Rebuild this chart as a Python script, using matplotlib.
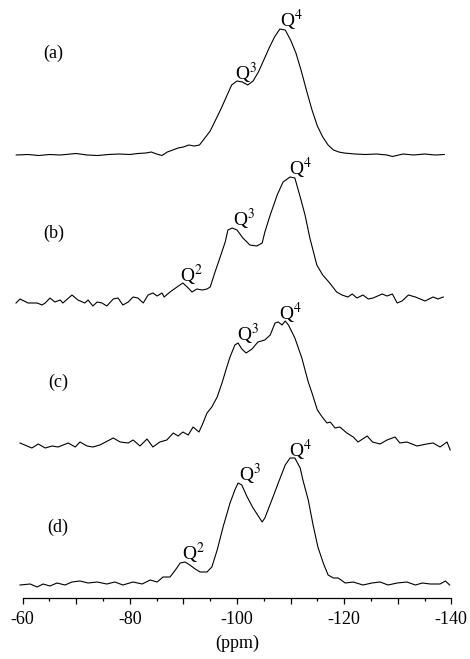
import numpy as np
import matplotlib
matplotlib.use('Agg')
import matplotlib.pyplot as plt
from matplotlib.ticker import MultipleLocator, FuncFormatter

# 29Si MAS NMR spectra, intensities (arbitrary units)
a_ppm = [-58.8, -61, -63, -65, -67, -69, -70, -72, -74, -76, -78, -80, -81.5, -83, -84, -85, -86,
         -87, -88, -89, -90, -91, -92, -93, -94, -95, -96, -97, -98, -99, -100, -101, -102, -103,
         -104, -105, -106, -107, -108, -109, -110, -111, -112, -113, -114, -115, -116, -117, -118,
         -119, -120, -122, -124, -126, -128, -129, -131, -133, -135, -137, -138.7]
a_int = [0, 0.5, -0.5, 0.5, 0, 1, 1.5, 0, -0.5, 0.5, 1, 0.5, 1.5, 2, 3, 1, -0.5,
         3, 5, 7, 8, 10, 9, 10, 17, 24, 35, 46, 58, 70, 74, 73, 70, 74,
         83, 95, 107, 118, 126, 125, 115, 102, 84, 64, 45, 29, 18, 10, 5,
         3, 2, 1, 0.5, 1, 0, -1.5, 1, 0, 1, 0, 0.5]

b_ppm = [-58.75, -59.5, -61.0, -62.7, -63.6, -64.2, -65.1, -66.0, -67.0, -67.5, -69.2, -70.3,
         -71.6, -72.2, -73.1, -73.9, -74.8, -75.7, -76.9, -77.8, -78.7, -79.7, -80.6, -81.5,
         -82.5, -83.4, -84.3, -85.1, -86.0, -86.4, -87.5, -88.8, -89.9, -90.9, -91.6, -92.5,
         -93.5, -94.4, -95.0, -95.9, -96.8, -97.8, -98.3, -99.1, -100.0, -101.1, -102.4, -103.7,
         -104.7, -105.2, -106.2, -107.5, -108.6, -109.9, -110.8, -111.8, -112.7, -113.6, -114.9,
         -116.0, -117.3, -118.6, -119.6, -120.7, -121.5, -122.4, -123.5, -124.5, -125.4, -127.1,
         -128.0, -129.0, -129.9, -130.8, -132.0, -133.3, -135.1, -136.6, -137.5, -138.5]
b_int = [-1, 3, -1, -1, -3, -1, 4, 0, 2, -1, 7, 2,
         -1, 2, -4, 0, -1, -4, 3, 4, -3, 0, 5, 4,
         -1, 7, 9, 6, 9, 5, 10, 15, 19, 14, 10, 13,
         12, 13, 15, 30, 44, 60, 72, 74, 72, 64, 57, 56,
         59, 70, 87, 107, 120, 125, 124, 105, 87, 64, 37,
         27, 19, 10, 7, 5, 8, 4, 7, 3, 4, 8,
         6, 8, -1, 1, 7, 5, 1, 5, 3, 5]

c_ppm = [-59.5, -61.7, -62.9, -64.2, -65.5, -66.6, -68.5, -69.8, -70.7, -72.0, -73.1, -74.4,
         -76.9, -78.2, -79.7, -80.6, -81.9, -83.2, -84.3, -85.6, -86.9, -88.1, -89.0, -89.9,
         -90.9, -91.8, -92.9, -93.5, -94.4, -95.3, -96.3, -97.2, -98.1, -98.7, -99.6, -100.2,
         -100.9, -101.7, -102.8, -103.9, -105.2, -106.2, -107.1, -107.7, -108.4, -109.0, -109.6,
         -110.8, -112.1, -112.7, -113.3, -114.0, -115.0, -115.9, -116.8, -117.4, -118.3, -119.2,
         -120.5, -121.7, -122.6, -124.3, -125.3, -126.7, -128.0, -129.5, -130.4, -131.7, -133.6,
         -135.4, -136.6, -137.9, -139.2, -139.8]
c_int = [2, -3, 1, -3, -1, -2, 2, -2, 3, -1, -2, 0,
         7, 3, 2, 5, -1, 6, -2, 3, 5, 12, 9, 13,
         10, 18, 13, 20, 32, 38, 48, 62, 78, 88, 100, 102,
         96, 92, 96, 103, 105, 110, 122, 123, 120, 124, 120,
         107, 87, 75, 63, 52, 35, 28, 22, 23, 17, 18,
         12, 8, 3, 9, 3, 1, 5, 8, 2, 3, -1,
         1, 2, -2, 3, -5]

d_ppm = [-59.5, -61.4, -62.7, -63.8, -65.1, -66.4, -67.9, -69.2, -70.7, -72.2, -73.9, -75.7,
         -77.2, -78.7, -80.6, -82.3, -83.8, -85.1, -86.2, -87.5, -88.5, -89.4, -90.3, -91.2,
         -92.2, -93.1, -94.4, -95.3, -96.3, -97.4, -98.7, -99.6, -100.2, -100.9, -101.9, -103.0,
         -104.7, -105.2, -106.5, -107.7, -109.0, -109.9, -110.8, -111.8, -112.3, -113.3, -114.2,
         -115.1, -116.1, -117.0, -118.0, -118.9, -120.2, -121.7, -123.5, -125.2, -126.7, -128.2,
         -129.9, -131.7, -133.3, -134.6, -136.1, -137.9, -138.9, -139.7]
d_int = [0, 1, -2, 1, -1, 2, 0, 3, 4, 2, 3, 1,
         3, 0, 3, 1, 5, 3, 8, 8, 15, 22, 23, 20,
         16, 13, 13, 18, 35, 58, 82, 95, 102, 100, 88, 77,
         63, 67, 85, 102, 120, 127, 127, 117, 105, 85, 60,
         38, 22, 10, 7, 7, 2, 3, 0, 2, 3, 0,
         2, 3, 0, 2, 1, 1, 4, 0]

spectra = [(a_ppm, a_int), (b_ppm, b_int), (c_ppm, c_int), (d_ppm, d_int)]
panel_names = ['(a)', '(b)', '(c)', '(d)']
peak_labels = [
    [('Q$^3$', -99.7), ('Q$^4$', -108.1)],
    [('Q$^2$', -89.4), ('Q$^3$', -99.3), ('Q$^4$', -109.7)],
    [('Q$^3$', -100.0), ('Q$^4$', -107.8)],
    [('Q$^2$', -89.8), ('Q$^3$', -100.4), ('Q$^4$', -109.7)],
]

# layout (vertical stacking, in pixel-like units)
offsets = [443, 296, 153, 13]
name_pos = [(-63.8, 545), (-63.8, 365), (-64.7, 216), (-64.5, 71)]

plt.rcParams['font.family'] = 'Liberation Serif'
plt.rcParams['mathtext.fontset'] = 'stix'
plt.rcParams['axes.unicode_minus'] = False

fig = plt.figure(figsize=(4.7, 6.59), dpi=100)
ax = fig.add_axes([22.7 / 470, 1 - 598 / 659, (451.3 - 22.7) / 470, 598 / 659])

for (x, y), off, name, npos, labs in zip(spectra, offsets, panel_names, name_pos, peak_labels):
    x = np.array(x)
    y = np.array(y) + off
    ax.plot(x, y, color='black', lw=0.8, clip_on=False)
    ax.text(npos[0], npos[1], name, fontsize=13, ha='left', va='center')
    for txt, px in labs:
        py = np.interp(-px, -x, y)
        ax.text(px, py + 2.5, txt, fontsize=14, ha='left', va='baseline')

ax.set_xlim(-60, -140)
ax.set_ylim(0, 598)
ax.set_yticks([])
for s in ['top', 'left', 'right']:
    ax.spines[s].set_visible(False)
ax.spines['bottom'].set_linewidth(0.9)

ax.xaxis.set_major_locator(MultipleLocator(10))
ax.xaxis.set_minor_locator(MultipleLocator(5))
ax.xaxis.set_major_formatter(FuncFormatter(lambda v, p: '%d' % v if int(round(v)) % 20 == 0 else ''))
ax.tick_params(axis='x', which='major', direction='out', length=4.5, width=0.9, pad=5, labelsize=13)
ax.tick_params(axis='x', which='minor', direction='out', length=2.2, width=0.9)
ax.set_xlabel('(ppm)', fontsize=13, labelpad=5)

fig.savefig('out.png', dpi=100)
